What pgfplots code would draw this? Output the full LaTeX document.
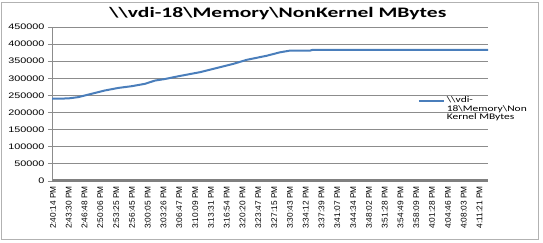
\documentclass[border=0pt]{standalone}
\usepackage{fontspec}
\usepackage{graphicx}
\usepackage{pgfplots}
\pgfplotsset{compat=1.18}
\setmainfont{Liberation Sans}
\newfontfamily\tickfont[FakeStretch=1.35]{Liberation Sans}
\newfontfamily\titlefont{Carlito}
\newfontfamily\legfont[FakeStretch=1.35]{Carlito}
\definecolor{serblue}{RGB}{74,126,187}
\definecolor{gridgray}{RGB}{140,140,140}
\definecolor{floorgray}{RGB}{128,128,128}
\newcommand\bs{\textbackslash}
\begin{document}
\begin{tikzpicture}
\path[use as bounding box] (0pt,0pt) rectangle (543pt,243pt);
\draw[gray!60, line width=0.8pt] (1.5pt,4pt) rectangle (538pt,241pt);
\begin{axis}[
  at={(52pt,62pt)}, anchor=south west,
  scale only axis, width=436pt, height=154pt,
  xmin=0, xmax=27.6, ymin=0, ymax=450000,
  axis lines*=left,
  axis line style={-},
  x axis line style={line width=3pt, floorgray},
  y axis line style={line width=0.8pt, gridgray},
  ytick={0,50000,...,450000},
  scaled y ticks=false,
  /pgf/number format/.cd, fixed, 1000 sep={}, assume math mode=true,
  /pgfplots/.cd,
  ymajorgrids, grid style={gridgray, line width=0.8pt},
  tick align=outside, major tick length=4pt,
  ytick style={gridgray, line width=0.8pt},
  xtick style={draw=none},
  yticklabel style={font=\tickfont\fontsize{8}{9}\selectfont, black},
  xtick={0,...,27},
  xticklabels={2:40:14 PM,2:43:30 PM,2:46:48 PM,2:50:06 PM,2:53:25 PM,2:56:45 PM,3:00:05 PM,3:03:26 PM,3:06:47 PM,3:10:09 PM,3:13:31 PM,3:16:54 PM,3:20:20 PM,3:23:47 PM,3:27:15 PM,3:30:43 PM,3:34:12 PM,3:37:39 PM,3:41:07 PM,3:44:34 PM,3:48:02 PM,3:51:28 PM,3:54:49 PM,3:58:09 PM,4:01:28 PM,4:04:46 PM,4:08:03 PM,4:11:21 PM},
  xticklabel style={font=\fontsize{8.3}{9}\selectfont, rotate=90, anchor=east, xshift=2pt, yshift=-1pt},
  title={\resizebox{337pt}{\height}{\titlefont\bfseries\fontsize{14.5}{16}\selectfont \bs\bs vdi-18\bs Memory\bs NonKernel MBytes}},
  title style={at={(0.518,1.023)}, anchor=base, inner sep=0pt},
  legend style={at={(0.839,0.56)}, anchor=north west, draw=none, fill=none,
    font=\legfont\fontsize{8.5}{8}\selectfont, inner sep=0pt},
  legend cell align=left,
  legend image code/.code={\draw[#1, line width=1.8pt] (0pt,0pt) -- (25pt,0pt);},
]
\addplot[serblue, line width=2pt, mark=none] coordinates {
(0,240300) (1.03,241300) (1.65,245000) (2.51,254800) (3.35,264500)
(4.2,272000) (5.04,277000) (5.89,284000) (6.52,293500) (7.15,298000)
(7.99,306000) (9.37,318000) (10.63,332600) (11.46,342000) (12.32,354000)
(13.59,366000) (14.43,376000) (15.06,381000) (16.33,381000) (16.52,383500)
(27.6,383500)
};
\addlegendentry{\begin{tabular}[t]{@{}l@{}}\bs\bs vdi-\\18\bs Memory\bs Non\\Kernel MBytes\end{tabular}}
\end{axis}
\end{tikzpicture}
\end{document}
